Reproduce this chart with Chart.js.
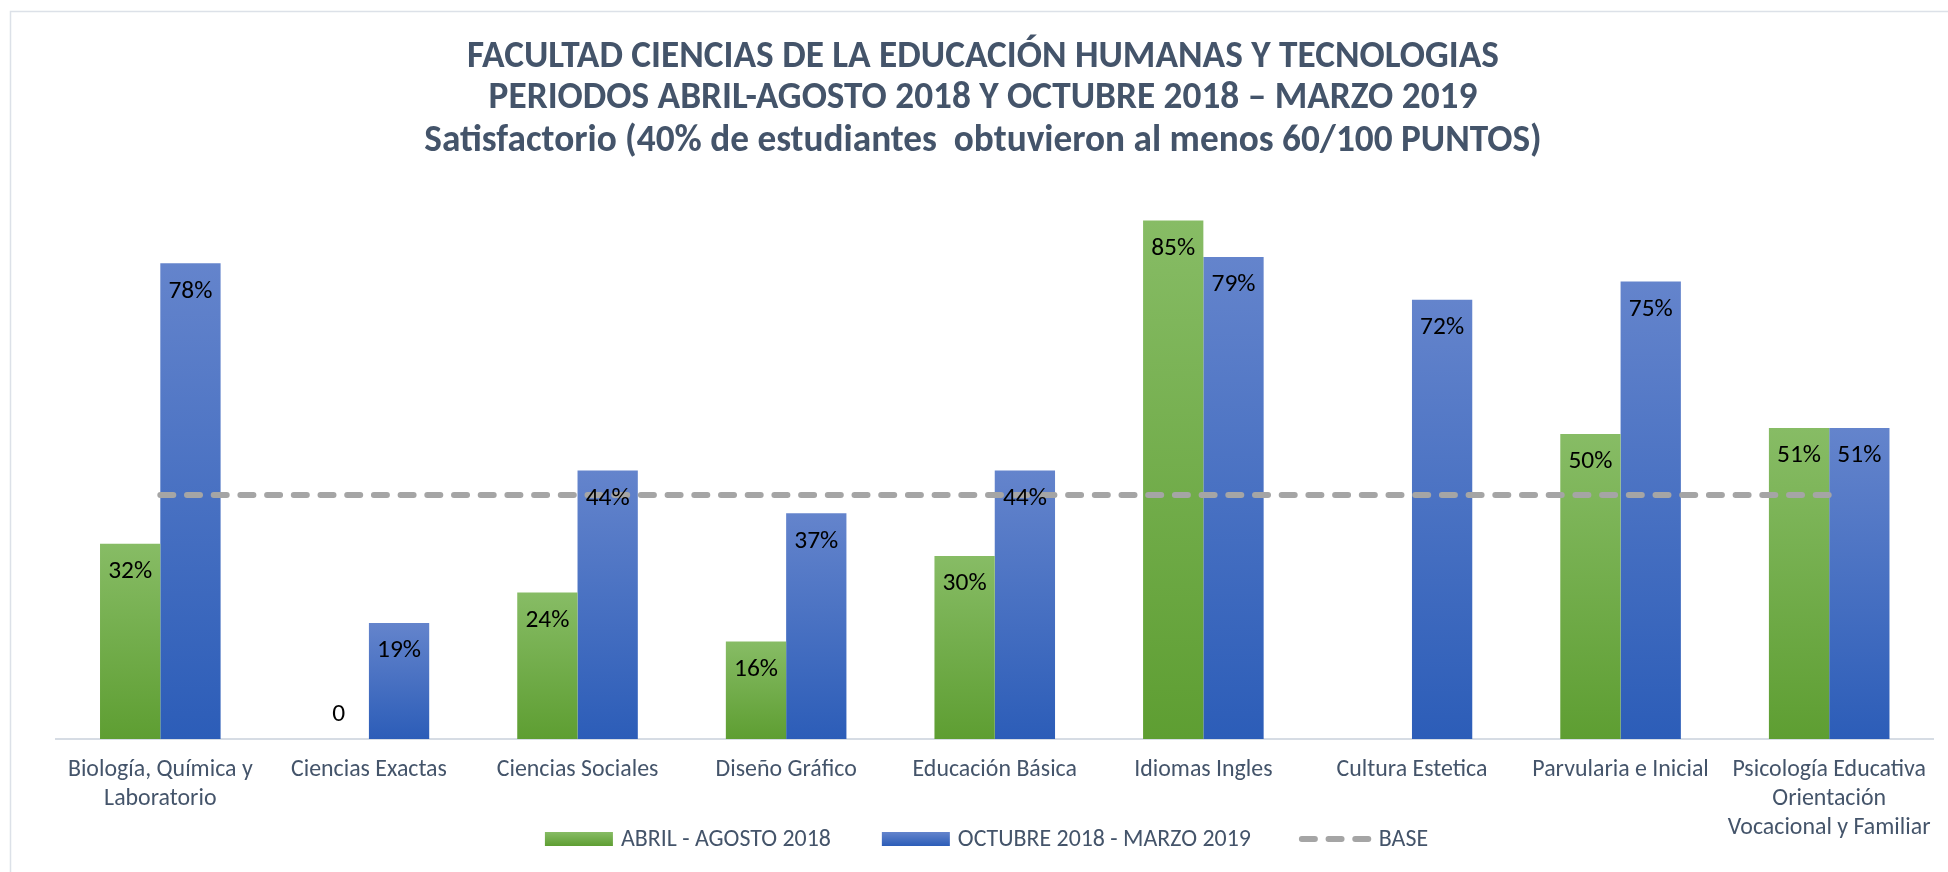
<!DOCTYPE html>
<html>
<head>
<meta charset="utf-8">
<script src="https://cdn.jsdelivr.net/npm/chart.js@4.4.1/dist/chart.umd.min.js"></script>
<style>
  html, body { margin: 0; padding: 0; background: #ffffff; }
  #wrap { width: 1948px; height: 872px; }
</style>
</head>
<body>
<div id="wrap"><canvas id="c" width="1948" height="872"></canvas></div>
<script>
// ---------- DATA ----------
const titleLines = [
  "FACULTAD CIENCIAS DE LA EDUCACIÓN HUMANAS Y TECNOLOGIAS",
  "PERIODOS ABRIL-AGOSTO 2018 Y OCTUBRE 2018 – MARZO 2019",
  "Satisfactorio (40% de estudiantes  obtuvieron al menos 60/100 PUNTOS)"
];
const categories = [
  ["Biología, Química y", "Laboratorio"],
  "Ciencias Exactas",
  "Ciencias Sociales",
  "Diseño Gráfico",
  "Educación Básica",
  "Idiomas Ingles",
  "Cultura Estetica",
  "Parvularia e Inicial",
  ["Psicología Educativa", "Orientación", "Vocacional y Familiar"]
];
const seriesNames = ["ABRIL - AGOSTO 2018", "OCTUBRE 2018 - MARZO 2019", "BASE"];
const abrilAgosto2018 = [32, 0, 24, 16, 30, 85, null, 50, 51];
const octubre2018Marzo2019 = [78, 19, 44, 37, 44, 79, 72, 75, 51];
const baseLine = [40, 40, 40, 40, 40, 40, 40, 40, 40];
const yMin = 0;
const yMax = 90;

// ---------- STYLE ----------
const TEXT_COLOR = '#44546A';
const SANS = 'Carlito, Lato, "Open Sans", sans-serif';

function fitSize(text, target, weight, family) {
  const cv = document.createElement('canvas').getContext('2d');
  cv.font = weight + ' 100px ' + family;
  return 100 * target / cv.measureText(text).width;
}
const titleSize = fitSize(titleLines[0], 1032, 'bold', SANS);
const tickSize = fitSize("Biología, Química y", 185, 'normal', SANS);
const legendSize = fitSize(seriesNames[0], 210, 'normal', SANS);
const valueSize = fitSize("78%", 44, 'normal', SANS);

function vGradient(ctx, y0, y1, c0, c1) {
  const g = ctx.createLinearGradient(0, y0, 0, y1);
  g.addColorStop(0, c0);
  g.addColorStop(1, c1);
  return g;
}
function barFill(c0, c1) {
  return function (context) {
    const chart = context.chart;
    if (!chart.chartArea || context.type !== 'data') return c1;
    const v = context.parsed ? context.parsed.y : null;
    if (v == null) return c1;
    const ys = chart.scales.y;
    const top = ys.getPixelForValue(v);
    const bot = ys.getPixelForValue(0);
    if (Math.abs(bot - top) < 1) return c1;
    return vGradient(chart.ctx, top, bot, c0, c1);
  };
}

const GREEN_TOP = '#87BC65', GREEN_BOT = '#5E9E32';
const BLUE_TOP = '#6484CC', BLUE_BOT = '#2C5DB8';
const BASE_COLOR = '#A5A5A5';

const framePlugin = {
  id: 'frame',
  beforeDraw(chart) {
    const ctx = chart.ctx;
    ctx.save();
    ctx.fillStyle = '#ffffff';
    ctx.fillRect(0, 0, chart.width, chart.height);
    ctx.strokeStyle = '#DCE1E8';
    ctx.lineWidth = 1.5;
    ctx.beginPath();
    ctx.moveTo(10.5, chart.height);
    ctx.lineTo(10.5, 11.5);
    ctx.lineTo(chart.width, 11.5);
    ctx.stroke();
    ctx.restore();
  }
};

const titlePlugin = {
  id: 'customTitle',
  afterDraw(chart) {
    const ctx = chart.ctx;
    ctx.save();
    ctx.fillStyle = TEXT_COLOR;
    ctx.font = 'bold ' + titleSize.toFixed(2) + 'px ' + SANS;
    ctx.textAlign = 'center';
    ctx.textBaseline = 'alphabetic';
    const ys = [67, 108, 151];
    titleLines.forEach((t, i) => ctx.fillText(t, 983, ys[i]));
    ctx.restore();
  }
};

const valueLabelPlugin = {
  id: 'valueLabels',
  afterDatasetsDraw(chart) {
    const ctx = chart.ctx;
    ctx.save();
    ctx.fillStyle = '#000000';
    ctx.font = valueSize.toFixed(2) + 'px ' + SANS;
    ctx.textAlign = 'center';
    ctx.textBaseline = 'middle';
    [0, 1].forEach(di => {
      const meta = chart.getDatasetMeta(di);
      const data = chart.data.datasets[di].data;
      meta.data.forEach((el, i) => {
        const v = data[i];
        if (v == null) return;
        const txt = v === 0 ? '0' : v + '%';
        const y = v === 0 ? el.base - 24 : el.y + 28;
        ctx.fillText(txt, el.x, y);
      });
    });
    ctx.restore();
  }
};

const legendPlugin = {
  id: 'customLegend',
  afterDraw(chart) {
    const ctx = chart.ctx;
    ctx.save();
    ctx.font = legendSize.toFixed(2) + 'px ' + SANS;
    const w = seriesNames.map(s => ctx.measureText(s).width);
    const boxW = 68, boxH = 14, lineW = 73;
    const total = boxW + 8 + w[0] + 51 + boxW + 8 + w[1] + 48 + lineW + 7 + w[2];
    let x = 986.5 - total / 2;
    const cy = 839;
    const baseY = 846;
    ctx.textBaseline = 'alphabetic';
    ctx.textAlign = 'left';
    // green
    ctx.fillStyle = vGradient(ctx, cy - boxH / 2, cy + boxH / 2, GREEN_TOP, GREEN_BOT);
    ctx.fillRect(x, cy - boxH / 2, boxW, boxH);
    x += boxW + 8;
    ctx.fillStyle = TEXT_COLOR;
    ctx.fillText(seriesNames[0], x, baseY);
    x += w[0] + 51;
    // blue
    ctx.fillStyle = vGradient(ctx, cy - boxH / 2, cy + boxH / 2, BLUE_TOP, BLUE_BOT);
    ctx.fillRect(x, cy - boxH / 2, boxW, boxH);
    x += boxW + 8;
    ctx.fillStyle = TEXT_COLOR;
    ctx.fillText(seriesNames[1], x, baseY);
    x += w[1] + 48;
    // base line
    ctx.strokeStyle = BASE_COLOR;
    ctx.lineWidth = 6;
    ctx.lineCap = 'round';
    ctx.setLineDash([13, 13.7]);
    ctx.beginPath();
    ctx.moveTo(x + 3, cy);
    ctx.lineTo(x + lineW - 3, cy);
    ctx.stroke();
    ctx.setLineDash([]);
    x += lineW + 7;
    ctx.fillStyle = TEXT_COLOR;
    ctx.fillText(seriesNames[2], x, baseY);
    ctx.restore();
  }
};

new Chart(document.getElementById('c'), {
  data: {
    labels: categories,
    datasets: [
      {
        type: 'bar',
        label: seriesNames[0],
        data: abrilAgosto2018,
        backgroundColor: barFill(GREEN_TOP, GREEN_BOT),
        borderWidth: 0,
        categoryPercentage: 0.578,
        barPercentage: 1.0,
        order: 2
      },
      {
        type: 'bar',
        label: seriesNames[1],
        data: octubre2018Marzo2019,
        backgroundColor: barFill(BLUE_TOP, BLUE_BOT),
        borderWidth: 0,
        categoryPercentage: 0.578,
        barPercentage: 1.0,
        order: 2
      },
      {
        type: 'line',
        label: seriesNames[2],
        data: baseLine,
        borderColor: BASE_COLOR,
        backgroundColor: BASE_COLOR,
        borderWidth: 6,
        borderDash: [13, 13.7],
        borderCapStyle: 'round',
        pointRadius: 0,
        pointHoverRadius: 0,
        fill: false,
        tension: 0,
        order: 0
      }
    ]
  },
  options: {
    responsive: false,
    animation: false,
    events: [],
    layout: { padding: { top: 190, left: 56, right: 8, bottom: 12 } },
    plugins: {
      legend: { display: false },
      title: { display: false },
      tooltip: { enabled: false }
    },
    scales: {
      x: {
        grid: { display: false, drawTicks: false },
        border: { display: true, color: '#D6DCE4', width: 2 },
        ticks: {
          autoSkip: false,
          maxRotation: 0,
          minRotation: 0,
          padding: 17,
          color: TEXT_COLOR,
          font: { family: SANS, size: tickSize, lineHeight: '29px' }
        }
      },
      y: {
        display: false,
        min: yMin,
        max: yMax
      }
    }
  },
  plugins: [framePlugin, titlePlugin, valueLabelPlugin, legendPlugin]
});
</script>
</body>
</html>
